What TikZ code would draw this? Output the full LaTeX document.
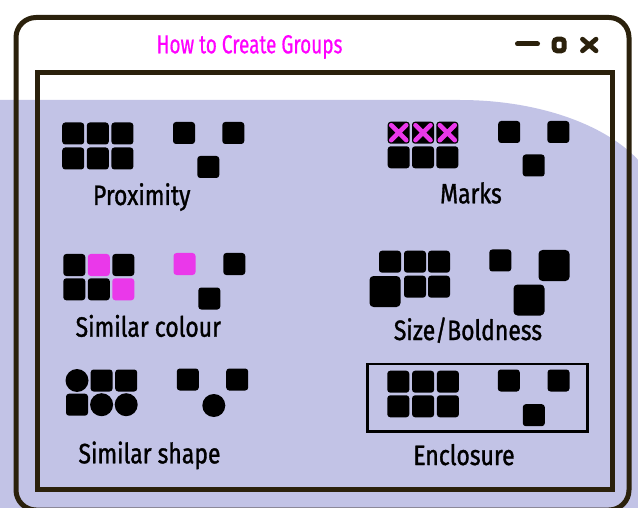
\documentclass[tikz,border=0pt]{standalone}
\usepackage{fontspec}
\usepackage{tikz}
\usetikzlibrary{positioning, calc}
\newfontfamily\titlefont[FakeStretch=0.73, FakeBold=0.6]{Fira Sans}
\newfontfamily\labelfont[FakeStretch=0.82, FakeBold=1.2]{Fira Sans}
\definecolor{cFrame}{RGB}{43,33,12}
\definecolor{cLav}{RGB}{194,195,230}
\definecolor{cTitle}{RGB}{255,0,255}
\definecolor{cPink}{RGB}{234,56,234}
\tikzset{
	sq/.style      ={rectangle, fill=black, rounded corners=3pt, minimum size=22pt, inner sep=0pt},
	bigsq/.style   ={sq, minimum size=31pt, rounded corners=4pt},
	pinksq/.style  ={sq, fill=cPink},
	dot/.style     ={circle, fill=black, minimum size=23pt, inner sep=0pt},
	grplabel/.style={font=\labelfont\fontsize{28}{30}\selectfont, anchor=base},
	frameline/.style={draw=cFrame, line width=5pt},
	xmark/.style   ={draw=cPink, line width=4.6pt, line cap=round},
}

\begin{document}
\begin{tikzpicture}[x=1pt, y=-1pt]
	\useasboundingbox (0,0) rectangle (638,508);
	\clip (0,0) rectangle (638,508);
	% background blob
	\fill[cLav] (-5,100) -- (460,100) arc[start angle=90, end angle=0, x radius=200pt, y radius=110pt] -- (665,520) -- (-5,520) -- cycle;
	% window
	\draw[frameline, rounded corners=20pt] (16,17.5) rectangle (629,510);
	\draw[frameline] (37.5,72.5) rectangle (612.5,489);
	\node[font=\titlefont\fontsize{26}{28}\selectfont, text=cTitle, anchor=base] (title) at (249.5,53.3) {How to Create Groups};
	\draw[cFrame, line width=5pt, line cap=round] (517.5,44) -- (537.5,44);
	\draw[cFrame, line width=5pt, rounded corners=3pt] (554.2,39.2) rectangle (564.2,50.8);
	\draw[cFrame, line width=4.8pt, line cap=round] (582.5,39.2) -- (596,50.8) (582.5,50.8) -- (596,39.2);

	% proximity
	\foreach \c in {0,1,2} \foreach \r in {0,1} \node[sq] (prox\c\r) at ({73.2+24.6*\c},{133.5+25*\r}) {};
	\node[sq] (proxA) at (184,133) {};
	\node[sq] (proxB) at (233.3,133) {};
	\node[sq] (proxC) at (208.3,167) {};
	\node[grplabel] (proxlbl) at (141.7,205) {Proximity};

	% marks
	\foreach \c in {0,1,2} \foreach \r in {0,1} \node[sq] (mark\c\r) at ({398.7+24.3*\c},{132.7+24.6*\r}) {};
	\foreach \c in {0,1,2} \draw[xmark] ([shift={(-7.5pt,-7.5pt)}]mark\c0.center) -- ([shift={(7.5pt,7.5pt)}]mark\c0.center)
		([shift={(-7.5pt,7.5pt)}]mark\c0.center) -- ([shift={(7.5pt,-7.5pt)}]mark\c0.center);
	\node[sq] (markA) at (509.2,132) {};
	\node[sq] (markB) at (558.3,132) {};
	\node[sq] (markC) at (533.7,165.5) {};
	\node[grplabel] (marklbl) at (471,203.3) {Marks};

	% similar colour
	\foreach \c/\r/\s in {0/0/sq,1/0/pinksq,2/0/sq,0/1/sq,1/1/sq,2/1/pinksq}
		\node[\s] (col\c\r) at ({74.3+24.5*\c},{265+24.3*\r}) {};
	\node[pinksq] (colA) at (184.5,264) {};
	\node[sq] (colB) at (234.3,264) {};
	\node[sq] (colC) at (209.3,298.5) {};
	\node[grplabel] (collbl) at (148.3,336.7) {Similar colour};

	% size / boldness
	\node[sq] (siz00) at (390,261.7) {};
	\node[sq] (siz10) at (415,261.7) {};
	\node[sq] (siz20) at (439,261.7) {};
	\node[bigsq] (siz01) at (385,291.5) {};
	\node[sq] (siz11) at (415,286.7) {};
	\node[sq] (siz21) at (439,286.7) {};
	\node[sq] (sizA) at (500.3,260.5) {};
	\node[bigsq] (sizB) at (554,265.5) {};
	\node[bigsq] (sizC) at (529,300) {};
	\node[grplabel] (sizlbl) at (468,340) {Size/Boldness};

	% similar shape
	\foreach \c/\r/\s in {0/0/dot,1/0/sq,2/0/sq,0/1/sq,1/1/dot,2/1/dot}
		\node[\s] (shp\c\r) at ({77+24.6*\c},{380.5+24.2*\r}) {};
	\node[sq] (shpA) at (187.8,379.5) {};
	\node[sq] (shpB) at (237.2,379.5) {};
	\node[dot] (shpC) at (213.8,405.5) {};
	\node[grplabel] (shplbl) at (149.5,463.3) {Similar shape};

	% enclosure
	\draw[black, line width=2.5pt] (367.7,364) rectangle (587.3,431.7);
	\foreach \c in {0,1,2} \foreach \r in {0,1} \node[sq] (enc\c\r) at ({398.3+24.8*\c},{381.7+24.6*\r}) {};
	\node[sq] (encA) at (508.8,380.5) {};
	\node[sq] (encB) at (558.5,380.5) {};
	\node[sq] (encC) at (533.8,415.2) {};
	\node[grplabel] (enclbl) at (464,465) {Enclosure};
\end{tikzpicture}
\end{document}
